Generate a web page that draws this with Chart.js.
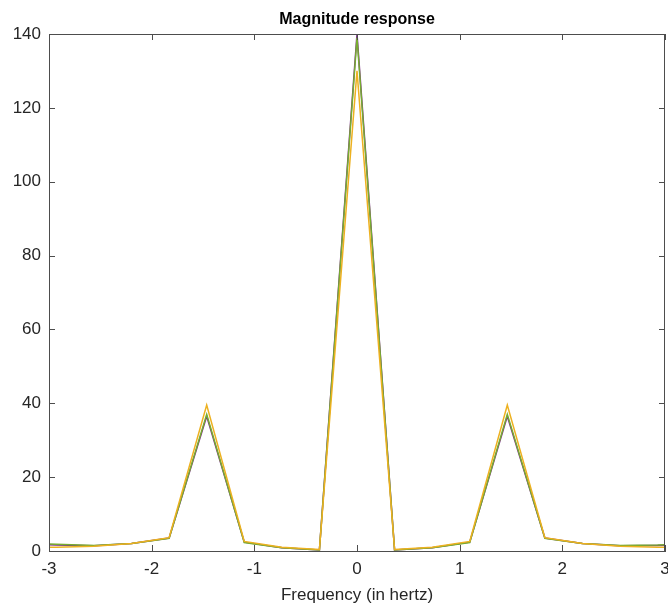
<!DOCTYPE html>
<html>
<head>
<meta charset="utf-8">
<script src="https://cdn.jsdelivr.net/npm/chart.js@4"></script>
<style>
  html, body { margin: 0; padding: 0; background: #fff; }
  #wrap { width: 668px; height: 608px; }
</style>
</head>
<body>
<div id="wrap"><canvas id="magChart" width="668" height="608"></canvas></div>
<script>
// frequency bins (hertz), spacing about 0.366
var freqs = [-3.294, -2.928, -2.562, -2.196, -1.830, -1.464, -1.098, -0.732, -0.366, 0,
             0.366, 0.732, 1.098, 1.464, 1.830, 2.196, 2.562, 2.928, 3.294];

var magYellow = [1.0, 1.0, 1.3, 2.0, 3.6, 39.5, 2.6, 1.0, 0.4, 130,
                 0.4, 1.0, 2.6, 39.5, 3.6, 2.0, 1.3, 1.0, 1.0];
var magGreen  = [2.2, 1.8, 1.5, 2.0, 3.4, 37.0, 2.3, 0.9, 0.3, 139,
                 0.3, 0.9, 2.3, 37.0, 3.4, 2.0, 1.5, 1.6, 2.0];
var magPurple = [2.0, 1.6, 1.4, 2.0, 3.5, 36.5, 2.4, 0.9, 0.3, 140,
                 0.3, 0.9, 2.4, 36.5, 3.5, 2.0, 1.4, 1.5, 1.8];

var xTicks = [-3, -2, -1, 0, 1, 2, 3];
var yTicks = [0, 20, 40, 60, 80, 100, 120, 140];
var titleText = 'Magnitude response';

function toPoints(ys) {
    return freqs.map(function(f, i) { return { x: f, y: ys[i] }; });
}

var axisColor = '#4d4d4d';
var textColor = '#262626';
var fontFam = 'Liberation Sans, Arial, sans-serif';

// box on top/right, inward tick marks and a title centred over the axes
var boxPlugin = {
    id: 'boxPlugin',
    afterDraw: function(chart) {
        var ctx = chart.ctx, a = chart.chartArea;
        var xs = chart.scales.x, ys = chart.scales.y;
        ctx.save();
        ctx.strokeStyle = axisColor;
        ctx.lineWidth = 1;
        ctx.strokeRect(a.left + 0.5, a.top + 0.5, a.right - a.left - 1, a.bottom - a.top);
        ctx.beginPath();
        xTicks.forEach(function(v) {
            var px = Math.round(xs.getPixelForValue(v)) + 0.5;
            ctx.moveTo(px, a.bottom); ctx.lineTo(px, a.bottom - 6);
            ctx.moveTo(px, a.top); ctx.lineTo(px, a.top + 6);
        });
        yTicks.forEach(function(v) {
            var py = Math.round(ys.getPixelForValue(v)) + 0.5;
            ctx.moveTo(a.left, py); ctx.lineTo(a.left + 6, py);
            ctx.moveTo(a.right, py); ctx.lineTo(a.right - 6, py);
        });
        ctx.stroke();

        ctx.fillStyle = '#000';
        ctx.font = 'bold 16px ' + fontFam;
        ctx.textAlign = 'center';
        ctx.textBaseline = 'middle';
        ctx.fillText(titleText, (a.left + a.right) / 2, 20);
        ctx.restore();
    }
};

var ctx = document.getElementById('magChart').getContext('2d');
var magChart = new Chart(ctx, {
    type: 'line',
    data: {
        datasets: [
            { label: 'yellow', data: toPoints(magYellow), borderColor: '#EDB120' },
            { label: 'green', data: toPoints(magGreen), borderColor: '#77AC30' },
            { label: 'purple', data: toPoints(magPurple), borderColor: '#7E2F8E' }
        ]
    },
    options: {
        responsive: false,
        animation: false,
        elements: {
            line: { borderWidth: 1.5, tension: 0, fill: false },
            point: { radius: 0 }
        },
        layout: { padding: { left: 0, right: 3, top: 34, bottom: 0 } },
        plugins: {
            legend: { display: false },
            tooltip: { enabled: false },
            title: { display: false }
        },
        scales: {
            x: {
                type: 'linear',
                min: -3,
                max: 3,
                afterBuildTicks: function(scale) {
                    scale.ticks = xTicks.map(function(v) { return { value: v }; });
                },
                afterFit: function(scale) {
                    scale.height = 57;
                    scale.paddingLeft = 0;
                    scale.paddingRight = 0;
                },
                grid: { display: false },
                border: { display: true, color: axisColor },
                ticks: {
                    color: textColor,
                    padding: 0,
                    maxRotation: 0,
                    font: { family: fontFam, size: 17 }
                },
                title: {
                    display: true,
                    text: 'Frequency (in hertz)',
                    color: textColor,
                    padding: { top: 0, bottom: 2 },
                    font: { family: fontFam, size: 17 }
                }
            },
            y: {
                min: 0,
                max: 140,
                afterBuildTicks: function(scale) {
                    scale.ticks = yTicks.map(function(v) { return { value: v }; });
                },
                afterFit: function(scale) {
                    scale.width = 49;
                    scale.paddingTop = 0;
                    scale.paddingBottom = 0;
                },
                grid: { display: false },
                border: { display: true, color: axisColor },
                ticks: {
                    color: textColor,
                    padding: 0,
                    font: { family: fontFam, size: 17 }
                }
            }
        }
    },
    plugins: [boxPlugin]
});
</script>
</body>
</html>
